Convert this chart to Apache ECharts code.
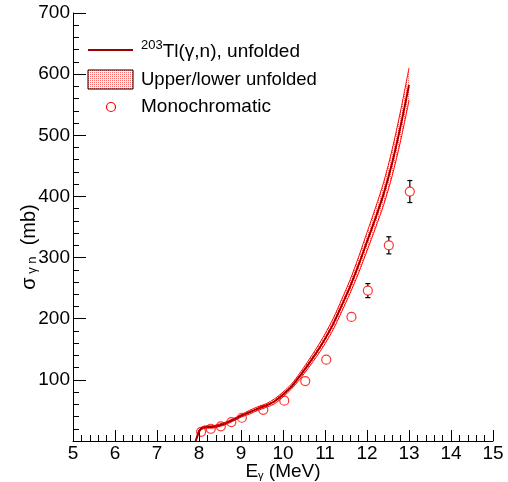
<!DOCTYPE html>
<html>
<head>
<meta charset="utf-8">
<script src="https://cdn.jsdelivr.net/npm/echarts@6/dist/echarts.min.js"></script>
<style>
  html, body { margin: 0; padding: 0; background: #fff; }
  #chart { width: 508px; height: 482px; }
</style>
</head>
<body>
<div id="chart"></div>
<script>
// unfolded cross section, 203Tl(g,n)
const energy = [7.92, 7.96, 8.0, 8.05, 8.1, 8.2, 8.3, 8.4, 8.5, 8.6, 8.8, 9.0, 9.2, 9.4, 9.6, 9.8,
    10.0, 10.2, 10.4, 10.6, 10.8, 11.0, 11.2, 11.4, 11.6, 11.8, 12.0, 12.2, 12.4, 12.6, 12.8, 13.0];
const central = [0, 8, 16, 20, 22, 23, 23, 24, 26, 28, 34, 41, 47, 53, 58, 65,
    76, 89, 106, 125, 145, 167, 192, 222, 253, 288, 326, 364, 405, 455, 515, 582];
const upper = [0, 10, 18, 22, 24, 25, 25, 26, 28, 30, 36, 43, 50, 56, 61, 69,
    80, 93, 111, 131, 152, 175, 201, 232, 264, 301, 341, 381, 424, 477, 540, 610];
const lower = [0, 6, 14, 18, 20, 21, 21, 22, 24, 26, 32, 39, 44, 50, 55, 61,
    72, 85, 101, 119, 138, 159, 183, 212, 242, 275, 311, 348, 387, 434, 491, 557];

// monochromatic points
const monoE = [8.05, 8.28, 8.52, 8.77, 9.02, 9.53, 10.03, 10.53, 11.03, 11.63, 12.02, 12.52, 13.02];
const monoSigma = [15, 20, 24, 31, 38, 51, 66, 98, 133, 203, 246, 320, 408];
const monoErr = [2, 2, 2, 2, 2, 3, 3, 4, 6, 8, 11.5, 14, 18];

const chart = echarts.init(document.getElementById('chart'));

// dotted pink fill like the ROOT hatch
const pat = document.createElement('canvas');
pat.width = 2; pat.height = 2;
const pctx = pat.getContext('2d');
pctx.fillStyle = 'rgba(255,0,0,0.6)';
pctx.fillRect(0, 0, 1, 1);
const bandFill = { image: pat, repeat: 'repeat' };

const pairs = (xs, ys) => xs.map((x, i) => [x, ys[i]]);
const font = 'Liberation Sans, Arial, sans-serif';
const R = 4.5;

const option = {
    animation: false,
    grid: { left: 73, right: 15, top: 13, bottom: 41, outerBoundsMode: 'none', containLabel: false },
    xAxis: {
        type: 'value',
        min: 5, max: 15, interval: 1,
        name: '{t|E}{sub|γ}{t| (MeV)}',
        nameLocation: 'middle',
        nameGap: 19,
        nameMoveOverlap: false,
        nameTextStyle: {
            rich: {
                t: { fontSize: 19, fontFamily: font, color: '#000', lineHeight: 21, verticalAlign: 'bottom' },
                sub: { fontSize: 11, fontFamily: font, color: '#000', verticalAlign: 'bottom', lineHeight: 15 }
            }
        },
        axisLine: { lineStyle: { color: '#000', width: 1 } },
        axisTick: { inside: true, length: 11, lineStyle: { color: '#000' } },
        minorTick: { show: true, splitNumber: 5, length: 6, lineStyle: { color: '#000' } },
        axisLabel: { fontSize: 19, fontFamily: font, color: '#000', margin: 3 },
        splitLine: { show: false }
    },
    yAxis: {
        type: 'value',
        min: 0, max: 700, interval: 100,
        name: '{t|σ}{sub| γ n}{t|  (mb)}',
        nameLocation: 'middle',
        nameGap: 34,
        nameMoveOverlap: false,
        nameTextStyle: {
            padding: [0, 40, 0, 0],
            rich: {
                t: { fontSize: 20, fontFamily: font, color: '#000', lineHeight: 22, verticalAlign: 'bottom' },
                sub: { fontSize: 13, fontFamily: font, color: '#000', verticalAlign: 'bottom', lineHeight: 16 }
            }
        },
        axisLine: { show: true, lineStyle: { color: '#000', width: 1 } },
        axisTick: { inside: true, length: 13, lineStyle: { color: '#000' } },
        minorTick: { show: true, splitNumber: 5, length: 6, lineStyle: { color: '#000' } },
        axisLabel: {
            fontSize: 19, fontFamily: font, color: '#000', margin: 3,
            formatter: v => (v === 0 ? '' : String(v))
        },
        splitLine: { show: false }
    },
    graphic: [
        { type: 'line', shape: { x1: 88, y1: 50, x2: 133, y2: 50 }, style: { stroke: '#990000', lineWidth: 2 } },
        {
            type: 'text', left: 141, top: 39,
            style: {
                text: '{sup|203}{n|Tl(γ,n), unfolded}',
                rich: {
                    sup: { fontSize: 13, fontFamily: font, fill: '#000', verticalAlign: 'top', lineHeight: 20 },
                    n: { fontSize: 19, fontFamily: font, fill: '#000', lineHeight: 22, verticalAlign: 'bottom' }
                }
            }
        },
        { type: 'rect', shape: { x: 88, y: 70, width: 45, height: 19 }, style: { fill: bandFill, stroke: '#000', lineWidth: 1 } },
        { type: 'text', left: 141, top: 70, style: { text: 'Upper/lower unfolded', fontSize: 18.5, fontFamily: font, fill: '#000' } },
        { type: 'circle', shape: { cx: 111, cy: 107, r: R }, style: { fill: 'none', stroke: '#ff0000', lineWidth: 1.2 } },
        { type: 'text', left: 141, top: 97, style: { text: 'Monochromatic', fontSize: 19, fontFamily: font, fill: '#000' } }
    ],
    series: [
        {
            // band between upper and lower, one polygon
            type: 'custom',
            data: [0],
            silent: true,
            renderItem: (params, api) => {
                const pts = energy.map((e, i) => api.coord([e, upper[i]]))
                    .concat(energy.map((e, i) => api.coord([e, lower[i]])).reverse());
                return { type: 'polygon', shape: { points: pts }, style: { fill: bandFill } };
            },
            z: 1
        },
        {
            type: 'line', data: pairs(energy, upper), symbol: 'none', smooth: 0.3,
            lineStyle: { color: '#ff0000', width: 1 }
        },
        {
            type: 'line', data: pairs(energy, lower), symbol: 'none', smooth: 0.3,
            lineStyle: { color: '#ff0000', width: 1 }
        },
        {
            type: 'line', data: pairs(energy, central), symbol: 'none', smooth: 0.3,
            lineStyle: { color: '#990000', width: 2 }
        },
        {
            type: 'custom',
            data: monoE.map((e, i) => [e, monoSigma[i], monoErr[i]]),
            renderItem: (params, api) => {
                const x = api.value(0), y = api.value(1), err = api.value(2);
                const top = api.coord([x, y + err]);
                const bot = api.coord([x, y - err]);
                const c = api.coord([x, y]);
                if (c[1] - top[1] <= R + 1) return { type: 'group', children: [] };
                const st = { stroke: '#000', lineWidth: 1.2 };
                return {
                    type: 'group',
                    children: [
                        { type: 'line', shape: { x1: c[0], y1: top[1], x2: c[0], y2: c[1] - R }, style: st },
                        { type: 'line', shape: { x1: c[0], y1: c[1] + R, x2: c[0], y2: bot[1] }, style: st },
                        { type: 'line', shape: { x1: c[0] - 2.5, y1: top[1], x2: c[0] + 2.5, y2: top[1] }, style: st },
                        { type: 'line', shape: { x1: c[0] - 2.5, y1: bot[1], x2: c[0] + 2.5, y2: bot[1] }, style: st }
                    ]
                };
            },
            z: 3
        },
        {
            type: 'scatter', data: pairs(monoE, monoSigma),
            symbol: 'circle', symbolSize: 2 * R,
            itemStyle: { color: 'rgba(0,0,0,0)', borderColor: '#ff0000', borderWidth: 1.2 },
            z: 4
        }
    ]
};

chart.setOption(option);
</script>
</body>
</html>
